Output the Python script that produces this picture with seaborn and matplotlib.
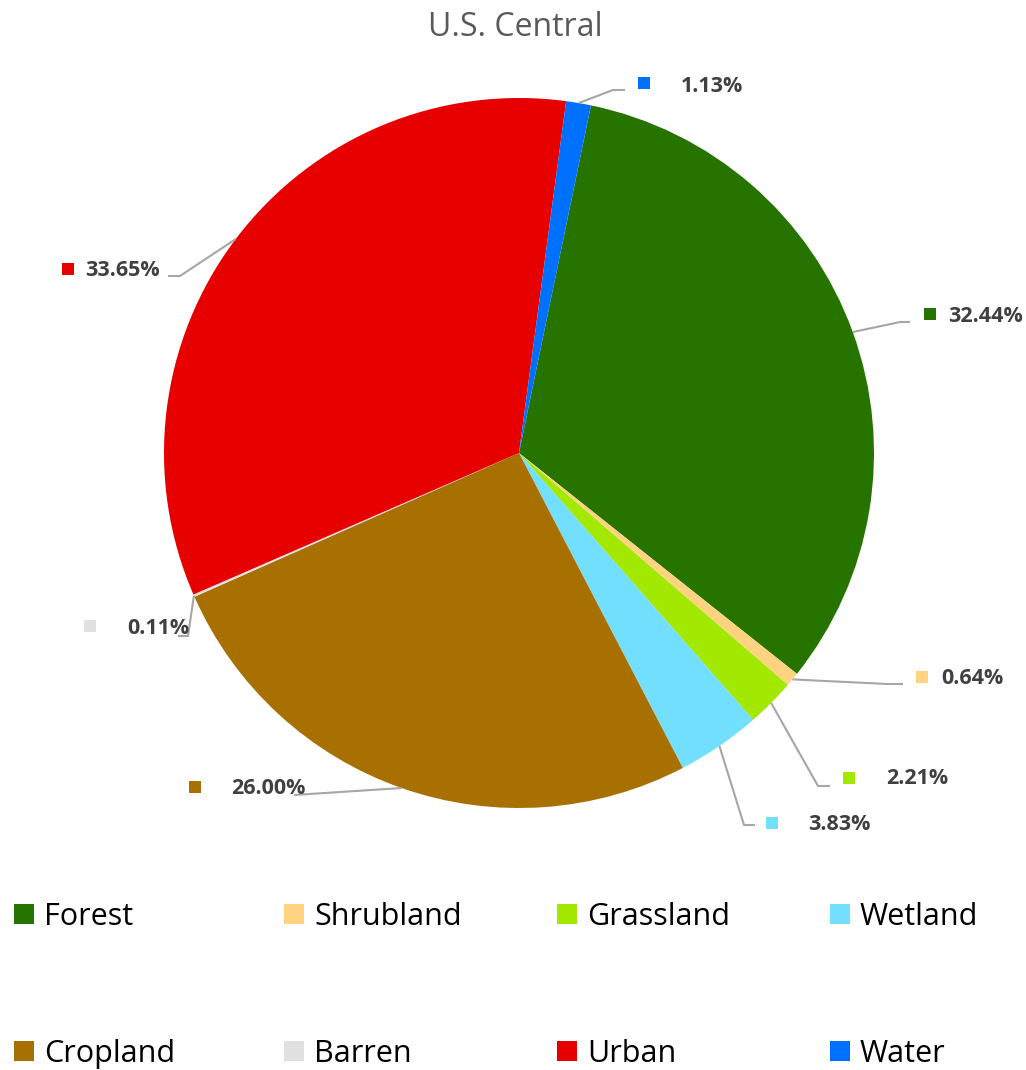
import numpy as np
import matplotlib
matplotlib.use("Agg")
import matplotlib.pyplot as plt
import seaborn as sns

# Land cover shares for the U.S. Central region (percent)
categories = ["Forest", "Shrubland", "Grassland", "Wetland",
              "Cropland", "Barren", "Urban", "Water"]
shares = [32.44, 0.64, 2.21, 3.83, 26.00, 0.11, 33.65, 1.13]
colors = ["#267300", "#FFD37F", "#A3E800", "#73DFFF",
          "#A87000", "#E1E1E1", "#E60000", "#0070FF"]
title = "U.S. Central"

sns.set_theme(style="white")
plt.rcParams["font.family"] = ["Open Sans", "DejaVu Sans"]

W, H = 1026, 1070
fig = plt.figure(figsize=(W / 100, H / 100), dpi=100)
ax = fig.add_axes([0, 0, 1, 1])

# pixel-like layout helpers (y measured from the top)
def Y(y):
    return H - y

cx, cy, R = 519, Y(453), 355
start = 90 - 11.7

palette = sns.color_palette(colors)
wedges, _ = ax.pie(shares, colors=palette, startangle=start, counterclock=False,
                   center=(cx, cy), radius=R, wedgeprops=dict(linewidth=0))
ax.set_xlim(0, W)
ax.set_ylim(0, H)
ax.set_aspect("equal")
ax.axis("off")

# leader elbow / end, marker centre and text left edge for each label
label_layout = {
    "Forest":    dict(path=[(900, 322), (910, 322)], marker=(930, 314), text=(948, 316)),
    "Shrubland": dict(path=[(887, 684), (903, 684)], marker=(922, 677), text=(941, 679)),
    "Grassland": dict(path=[(818, 786), (830, 786)], marker=(849, 778), text=(886, 779)),
    "Wetland":   dict(path=[(744, 825), (755, 825)], marker=(772, 823), text=(808, 825)),
    "Cropland":  dict(path=[(294, 795)], marker=(195, 787), text=(231, 789)),
    "Barren":    dict(path=[(188, 636), (178, 636)], marker=(90, 626), text=(127, 629)),
    "Urban":     dict(path=[(180, 276), (168, 276)], marker=(68, 269), text=(85, 271)),
    "Water":     dict(path=[(613, 90), (625, 90)], marker=(644, 83), text=(681, 86)),
}

for w, name, val, col in zip(wedges, categories, shares, palette):
    mid = np.deg2rad((w.theta1 + w.theta2) / 2)
    ex, ey = cx + R * np.cos(mid), cy + R * np.sin(mid)
    lay = label_layout[name]
    xs = [ex] + [p[0] for p in lay["path"]]
    ys = [ey] + [Y(p[1]) for p in lay["path"]]
    ax.plot(xs, ys, color="#A6A6A6", lw=1.5, solid_capstyle="butt", zorder=1)
    mx, my = lay["marker"]
    ax.scatter([mx], [Y(my)], marker="s", s=80, color=col, linewidths=0, zorder=3)
    tx, ty = lay["text"]
    ax.text(tx, Y(ty), f"{val:.2f}%", ha="left", va="center",
            fontsize=15.5, fontweight="bold", color="#404040")

ax.text(W / 2 + 2, Y(27), title, ha="center", va="center",
        fontsize=23, color="#595959")

# legend: four columns, two rows each
col_x = [14, 284, 557, 830]
for j in range(4):
    leg = fig.legend(handles=[wedges[j], wedges[j + 4]],
                     labels=[categories[j], categories[j + 4]],
                     loc="upper left", bbox_to_anchor=(col_x[j] / W, 1 - 902 / H),
                     frameon=False, fontsize=22, handlelength=0.65, handleheight=0.65,
                     handletextpad=0.33, labelspacing=3.5, borderpad=0, borderaxespad=0)
    for t in leg.get_texts():
        t.set_color("#000000")

fig.savefig("out.png", dpi=100, facecolor="white")
